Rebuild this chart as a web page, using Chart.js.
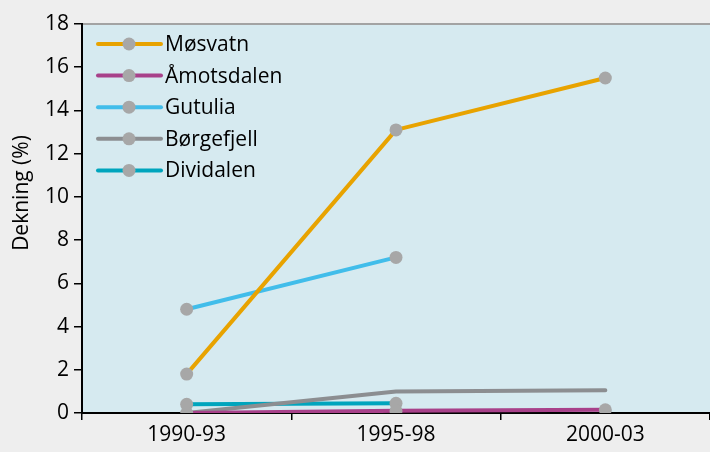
<!DOCTYPE html>
<html>
<head>
<meta charset="utf-8">
<script src="https://cdn.jsdelivr.net/npm/chart.js@4/dist/chart.umd.min.js"></script>
<style>
  html,body{margin:0;padding:0;background:#eeeeee;overflow:hidden;}
  canvas{display:block;}
</style>
</head>
<body>
<canvas id="chart" width="710" height="452"></canvas>
<script>
// data
const periods = ["1990-93", "1995-98", "2000-03"];
const seriesNames = ["Møsvatn", "Åmotsdalen", "Gutulia", "Børgefjell", "Dividalen"];
const mosvatn    = [1.8, 13.1, 15.5];
const amotsdalen = [0, 0.1, 0.15];
const gutulia    = [4.8, 7.2, null];
const borgefjell = [0, 1.0, 1.05];
const dividalen  = [0.4, 0.45, null];
const yTicks = [0, 2, 4, 6, 8, 10, 12, 14, 16, 18];
const yTitle = "Dekning (%)";

const values = [mosvatn, amotsdalen, gutulia, borgefjell, dividalen];
const colors = ["#e8a300", "#a8418a", "#41bdea", "#8c8e91", "#00a5bd"];
const showMarkers = [true, true, true, false, true];
const markerColor = "#a7a7a7";
const FONT = "'Open Sans', 'Noto Sans', sans-serif";

const lineSets = values.map((v,i)=>({
  label: seriesNames[i], data: v, borderColor: colors[i], borderWidth: 4,
  borderCapStyle: "round", borderJoinStyle: "round", pointRadius: 0,
  fill: false, tension: 0, order: 1
}));
const pointSets = values.map((v,i)=>({
  label: seriesNames[i] + " punkt", data: v, showLine: false,
  pointRadius: showMarkers[i] ? 6.5 : 0, pointBackgroundColor: markerColor,
  pointBorderWidth: 0, order: 0
}));

const bgPlugin = {
  id: "bg",
  beforeDraw(chart){
    const {ctx, chartArea:a} = chart;
    ctx.save();
    ctx.fillStyle = "#eeeeee";
    ctx.fillRect(0,0,chart.width,chart.height);
    ctx.fillStyle = "#d6eaf0";
    ctx.fillRect(a.left, a.top, chart.width-a.left, a.bottom-a.top);
    ctx.strokeStyle = "#a3a3a3"; ctx.lineWidth = 2;
    ctx.beginPath(); ctx.moveTo(a.left, a.top); ctx.lineTo(chart.width, a.top); ctx.stroke();
    ctx.restore();
  },
  afterDraw(chart){
    const ctx = chart.ctx;
    ctx.save();
    // legend
    ctx.font = "21px " + FONT;
    ctx.textBaseline = "middle";
    seriesNames.forEach((n,i)=>{
      const y = 44 + i*31.6;
      ctx.strokeStyle = colors[i]; ctx.lineWidth = 4; ctx.lineCap = "round";
      ctx.beginPath(); ctx.moveTo(98, y); ctx.lineTo(161, y); ctx.stroke();
      ctx.fillStyle = markerColor;
      ctx.beginPath(); ctx.arc(129, y, 6.5, 0, Math.PI*2); ctx.fill();
      ctx.fillStyle = "#000";
      ctx.fillText(n, 165, y+1);
    });
    // y axis title
    ctx.translate(22, 193);
    ctx.rotate(-Math.PI/2);
    ctx.textAlign = "center";
    ctx.fillText(yTitle, 0, 0);
    ctx.restore();
  }
};

new Chart(document.getElementById("chart"), {
  type: "line",
  data: { labels: periods, datasets: [...lineSets, ...pointSets] },
  options: {
    responsive: false, animation: false,
    layout: { autoPadding: false, padding: { top: 24, right: 0, left: 0, bottom: 0 } },
    plugins: { legend: { display: false }, tooltip: { enabled: false } },
    scales: {
      x: {
        offset: true,
        grid: { offset: true, drawOnChartArea: false, tickLength: 7, color: "#000", lineWidth: 1.5 },
        border: { color: "#000", width: 2 },
        ticks: { color: "#000", font: { size: 21, family: FONT }, padding: 2 },
        afterFit: s => { s.height = 39; s.paddingLeft = 0; s.paddingRight = 0; }
      },
      y: {
        min: 0, max: 18,
        afterBuildTicks: s => { s.ticks = yTicks.map(v=>({value:v})); },
        grid: { drawOnChartArea: false, tickLength: 8, color: "#000", lineWidth: 1.5 },
        border: { color: "#000", width: 2 },
        ticks: { color: "#000", font: { size: 21, family: FONT }, padding: 5 },
        afterFit: s => { s.width = 82; s.paddingTop = 0; s.paddingBottom = 0; }
      }
    }
  },
  plugins: [bgPlugin]
});
</script>
</body>
</html>
